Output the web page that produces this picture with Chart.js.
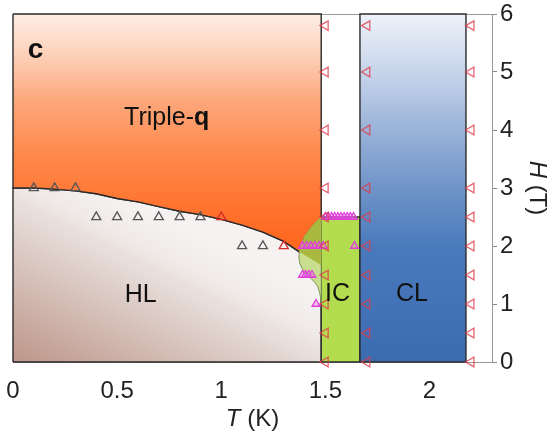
<!DOCTYPE html>
<html>
<head>
<meta charset="utf-8">
<script src="https://cdn.jsdelivr.net/npm/chart.js@4.4.0/dist/chart.umd.min.js"></script>
<style>
html, body { margin: 0; padding: 0; background: #fff; }
</style>
</head>
<body>
<canvas id="mycanvas" width="549" height="436"></canvas>
<script>
// axis ticks
var tempTicks = [0, 0.5, 1, 1.5, 2];
var fieldTicks = [0, 1, 2, 3, 4, 5, 6];

// Triple-q / HL phase boundary
var boundaryT = [0, 0.1, 0.2, 0.3, 0.4, 0.5, 0.6, 0.7, 0.8, 0.9, 1.0, 1.1, 1.2, 1.3, 1.375, 1.48];
var boundaryH = [3.0, 3.0, 2.98, 2.95, 2.9, 2.82, 2.76, 2.68, 2.6, 2.54, 2.46, 2.36, 2.24, 2.08, 1.9, 1.67];

// IC bulge outline (left of T = 1.48)
var bulgeT = [1.48, 1.45, 1.423, 1.4, 1.385, 1.375, 1.373, 1.377, 1.391, 1.41, 1.431, 1.45, 1.463, 1.472, 1.476, 1.48];
var bulgeH = [2.5, 2.4, 2.28, 2.17, 2.02, 1.9, 1.8, 1.7, 1.59, 1.51, 1.44, 1.37, 1.3, 1.2, 1.13, 1.0];

// phase edges
var icLeft = 1.48, icRight = 1.666, icTop = 2.5;
var clLeft = 1.666, clRight = 2.175;
var hMax = 6;

// measured points
var hlT = [0.1, 0.2, 0.3, 0.4, 0.5, 0.6, 0.7, 0.8, 0.9, 1.1, 1.2];
var hlH = [3, 3, 3, 2.5, 2.5, 2.5, 2.5, 2.5, 2.5, 2, 2];
var hlRedT = [1.0, 1.3];
var hlRedH = [2.5, 2.0];
var susT = [1.5, 1.7, 2.2];
var susH = [0, 0.5, 1, 1.5, 2, 2.5, 3, 4, 5, 5.8];
var icT = [1.5, 1.515, 1.53, 1.545, 1.56, 1.575, 1.59, 1.605, 1.62, 1.635, 1.39, 1.41, 1.43, 1.45, 1.47, 1.49, 1.64, 1.39, 1.405, 1.42, 1.435, 1.455];
var icH = [2.5, 2.5, 2.5, 2.5, 2.5, 2.5, 2.5, 2.5, 2.5, 2.5, 2, 2, 2, 2, 2, 2, 2, 1.5, 1.5, 1.5, 1.5, 1];

var fam = '"Liberation Sans", Arial, Helvetica, sans-serif';

function pts(ts, hs) {
	var out = [];
	for (var i = 0; i < ts.length; i++) out.push({x: ts[i], y: hs[i]});
	return out;
}

var boundary = pts(boundaryT, boundaryH);
var boundaryRev = boundary.slice().reverse();
var bulge = pts(bulgeT, bulgeH);

var tripleQ = [{x: 0, y: hMax}, {x: icLeft, y: hMax}].concat(boundaryRev).concat([{x: 0, y: hMax}]);
var hl = [{x: 0, y: 0}, {x: icLeft, y: 0}].concat(boundaryRev).concat([{x: 0, y: 0}]);
var icRect = [{x: icLeft, y: 0}, {x: icRight, y: 0}, {x: icRight, y: icTop}, {x: icLeft, y: icTop}, {x: icLeft, y: 0}];
var clRect = [{x: clLeft, y: 0}, {x: clRight, y: 0}, {x: clRight, y: hMax}, {x: clLeft, y: hMax}, {x: clLeft, y: 0}];
var bulgeShape = bulge.concat([bulge[0]]);
var oliveShape = bulge.slice(0, 6).concat([boundary[boundary.length - 1], bulge[0]]);

var sus = [];
for (var a = 0; a < susT.length; a++) {
	for (var b = 0; b < susH.length; b++) sus.push({x: susT[a], y: susH[b]});
}

function vGradient(stops) {
	return function(context) {
		var chart = context.chart;
		if (!chart.chartArea) return 'rgba(0,0,0,0)';
		var y = chart.scales.y;
		var g = chart.ctx.createLinearGradient(0, y.getPixelForValue(hMax), 0, y.getPixelForValue(0));
		stops.forEach(function(s) { g.addColorStop(s[0], s[1]); });
		return g;
	};
}

function hlGradient(context) {
	var chart = context.chart;
	if (!chart.chartArea) return 'rgba(0,0,0,0)';
	var x = chart.scales.x, y = chart.scales.y;
	var g = chart.ctx.createLinearGradient(x.getPixelForValue(0), y.getPixelForValue(0), x.getPixelForValue(0.42), y.getPixelForValue(3));
	g.addColorStop(0, '#be968a');
	g.addColorStop(0.45, '#d6c2bb');
	g.addColorStop(0.85, '#f0ebe9');
	g.addColorStop(1, '#f5f2f1');
	return g;
}

function region(label, data, bg, order, border, bw) {
	return {
		label: label, data: data, showLine: true, fill: 'shape', backgroundColor: bg,
		borderColor: border, borderWidth: bw, pointRadius: 0, pointHoverRadius: 0,
		tension: 0, order: order, clip: false
	};
}

function markers(label, data, color, fill, r, rot, order) {
	return {
		label: label, data: data, pointStyle: 'triangle', pointRadius: r, pointHoverRadius: r,
		pointRotation: rot, pointBorderColor: color, pointBackgroundColor: fill,
		pointBorderWidth: 1.3, borderColor: color, backgroundColor: fill, order: order, clip: false
	};
}

// no extra room for overhanging tick labels, the layout padding sets the frame
function noPad(s) {
	s.paddingLeft = 0; s.paddingRight = 0; s.paddingTop = 0; s.paddingBottom = 0;
}

var textPlugin = {
	id: 'phaseText',
	afterDatasetsDraw: function(chart) {
		var c = chart.ctx, x = chart.scales.x, y = chart.scales.y;
		c.save();
		c.fillStyle = '#111';
		c.textBaseline = 'middle';
		c.textAlign = 'center';

		c.font = 'bold 28px ' + fam;
		c.fillText('c', x.getPixelForValue(0.108), y.getPixelForValue(5.38));

		c.font = '25px ' + fam;
		c.fillText('HL', x.getPixelForValue(0.613), y.getPixelForValue(1.16));
		c.fillText('IC', x.getPixelForValue(1.558), y.getPixelForValue(1.17));
		c.fillText('CL', x.getPixelForValue(1.916), y.getPixelForValue(1.17));

		// Triple-q with bold q
		c.textAlign = 'left';
		c.font = '25px ' + fam;
		var w1 = c.measureText('Triple-').width;
		c.font = 'bold 25px ' + fam;
		var w2 = c.measureText('q').width;
		var cx = x.getPixelForValue(0.738) - (w1 + w2) / 2, cy = y.getPixelForValue(4.2);
		c.font = '25px ' + fam;
		c.fillText('Triple-', cx, cy);
		c.font = 'bold 25px ' + fam;
		c.fillText('q', cx + w1, cy);

		// axis titles
		c.fillStyle = '#222';
		c.font = 'italic 24px ' + fam;
		var t1 = c.measureText('T').width;
		c.font = '24px ' + fam;
		var t2 = c.measureText(' (K)').width;
		var tx = (chart.chartArea.left + chart.chartArea.right) / 2 - (t1 + t2) / 2;
		c.font = 'italic 24px ' + fam;
		c.fillText('T', tx, 419);
		c.font = '24px ' + fam;
		c.fillText(' (K)', tx + t1, 419);

		c.translate(537, (chart.chartArea.top + chart.chartArea.bottom) / 2);
		c.rotate(Math.PI / 2);
		c.font = 'italic 24px ' + fam;
		var h1 = c.measureText('H').width;
		c.font = '24px ' + fam;
		var h2 = c.measureText(' (T)').width;
		c.font = 'italic 24px ' + fam;
		c.fillText('H', -(h1 + h2) / 2, 0);
		c.font = '24px ' + fam;
		c.fillText(' (T)', -(h1 + h2) / 2 + h1, 0);
		c.restore();
	}
};

var ctx = document.getElementById('mycanvas');

var chart = new Chart(ctx, {
	type: 'scatter',
	data: {
		datasets: [
			markers('HL edge', pts(hlT, hlH), '#555555', 'rgba(0,0,0,0)', 5.2, 0, 1),
			markers('HL edge (red)', pts(hlRedT, hlRedH), '#d42a2a', 'rgba(0,0,0,0)', 5.2, 0, 1),
			markers('IC points', pts(icT, icH), '#e03cdc', 'rgba(236,120,236,0.35)', 4.5, 0, 2),
			markers('Susceptibility', sus, 'rgba(222,60,75,0.8)', 'rgba(0,0,0,0)', 5.5, -90, 0),
			region('CL', clRect, vGradient([[0, '#eef2f9'], [0.17, '#c6d4ea'], [0.33, '#9ab3d9'], [0.5, '#6f94c8'], [0.67, '#4a7abc'], [1, '#3c6cb0']]), 5, '#2b2b2b', 1.4),
			region('IC olive', oliveShape, '#a9b83e', 6, 'rgba(0,0,0,0)', 0),
			region('IC bulge', bulgeShape, '#c9de8e', 7, '#7d9656', 1),
			region('IC', icRect, '#b3dc4e', 8, '#2b2b2b', 1.4),
			region('Triple-q', tripleQ, vGradient([[0, '#fdeee6'], [0.12, '#fdd0b8'], [0.25, '#fca77b'], [0.4, '#fe8a4c'], [0.55, '#ff7430'], [0.65, '#ff6820'], [1, '#ff5a12']]), 9, '#2b2b2b', 1.4),
			region('HL', hl, hlGradient, 10, '#2b2b2b', 1.4)
		]
	},
	options: {
		responsive: false,
		animation: false,
		layout: { padding: { left: 13, top: 14, right: 0, bottom: 0 } },
		plugins: { legend: { display: false }, tooltip: { enabled: false } },
		scales: {
			x: {
				type: 'linear', position: 'bottom', min: 0, max: 2.3,
				grid: { display: false, drawTicks: false },
				border: { display: true, color: '#999', width: 1 },
				ticks: { padding: 15, color: '#222', font: { family: fam, size: 24 }, callback: function(v) { return String(v); } },
				afterBuildTicks: function(s) { s.ticks = tempTicks.map(function(v) { return {value: v}; }); },
				afterFit: function(s) { s.height = 74; noPad(s); }
			},
			x2: {
				type: 'linear', position: 'top', min: 0, max: 2.3,
				grid: { display: false, drawTicks: false },
				border: { display: true, color: '#999', width: 1 },
				ticks: { display: false },
				afterFit: function(s) { s.height = 0; noPad(s); }
			},
			y: {
				type: 'linear', position: 'right', min: 0, max: 6,
				grid: { display: true, drawOnChartArea: false, drawTicks: true, tickLength: 5, color: '#888' },
				border: { display: true, color: '#999', width: 1 },
				ticks: { padding: 3, color: '#222', font: { family: fam, size: 24 }, callback: function(v) { return String(v); } },
				afterBuildTicks: function(s) { s.ticks = fieldTicks.map(function(v) { return {value: v}; }); },
				afterFit: function(s) { s.width = 57; noPad(s); }
			}
		}
	},
	plugins: [textPlugin]
});
</script>
</body>
</html>
